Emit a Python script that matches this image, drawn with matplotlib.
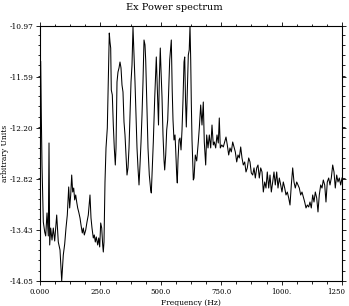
import matplotlib
matplotlib.use("Agg")
import matplotlib.pyplot as plt
import matplotlib.transforms as mtransforms
from matplotlib.ticker import AutoMinorLocator, FixedLocator

freq = [2.9, 5.4, 8.3, 13.7, 19.5, 23.6, 29.0, 34.4, 37.3, 40.1, 44.3, 49.7, 55.0, 60.8,
        69.1, 75.7, 82.8, 89.8, 96.4, 102.2, 107.6, 113.0, 118.8, 122.9, 127.1, 131.2,
        135.3, 139.5, 143.6, 147.8, 151.9, 156.0, 160.2, 165.6, 169.7, 175.1, 179.2,
        183.4, 189.2, 194.5, 199.9, 206.9, 211.1, 215.2, 220.6, 224.7, 228.9, 233.0,
        238.8, 243.0, 247.1, 251.2, 255.4, 259.5, 262.0, 264.9,
        269.0, 273.2, 278.6, 282.7, 286.8, 289.7, 292.6, 295.1, 299.3, 303.4, 307.5,
        311.7, 314.6, 318.7, 322.8, 327.0, 331.1, 335.3, 339.4, 343.5, 347.7, 351.8,
        356.0, 360.1, 364.2, 368.4, 372.5, 376.7, 380.8, 384.9, 389.1, 393.2, 397.4,
        401.5, 405.6, 409.8, 413.9, 418.1, 422.2, 426.3, 430.5, 434.6, 437.5, 441.6,
        447.0, 452.4, 458.2, 460.7, 463.6, 469.0, 474.8, 481.4, 486.3, 490.5, 493.8,
        497.9, 500.8, 505.0, 509.1, 513.3, 516.1, 520.3, 524.4, 528.6, 532.7, 536.8,
        543.5, 547.2, 550.5, 554.6, 558.8, 561.7, 565.8, 568.3, 571.2, 575.4, 579.5,
        583.7, 587.8, 591.9, 596.1, 599.0, 602.3, 605.6, 609.7, 613.9, 617.6, 620.9,
        623.8, 626.3, 629.2, 634.6, 637.5,
        642.8, 648.6, 655.2, 659.4, 665.1, 670.5, 675.9, 680.0, 685.8, 689.9, 695.4,
        700.7, 706.5, 711.9, 717.3, 721.4, 727.2, 732.6, 738.0, 742.1, 746.3, 752.1,
        758.7, 764.5, 769.9, 775.2, 781.0, 786.4, 791.8, 797.6, 803.0, 808.4, 814.2,
        819.5, 824.9, 830.7, 836.1, 841.5, 847.3, 852.6, 858.0, 863.8, 869.2, 874.6,
        880.4, 885.8, 891.2, 897.0, 902.3, 907.7, 913.5, 918.9, 924.3, 930.1, 935.4,
        940.8, 946.6, 952.0, 957.4, 963.2, 968.5, 973.9, 979.7, 985.1, 990.5, 996.3,
        1001.6, 1007.0, 1012.8, 1018.2, 1023.6, 1029.4, 1034.8, 1040.2, 1045.9, 1051.3,
        1056.7, 1062.5, 1067.9, 1073.3, 1079.0, 1084.4, 1089.8, 1095.6, 1101.0, 1106.4,
        1112.2, 1117.5, 1122.9, 1128.7, 1134.1, 1139.5, 1145.3, 1150.6, 1156.0, 1161.8,
        1167.2, 1172.6, 1178.4, 1183.7, 1189.1, 1194.9, 1200.3, 1205.7, 1211.5, 1216.9,
        1222.2, 1228.0, 1233.4, 1238.8, 1244.6, 1250.0]

power = [-11.400, -12.045, -12.649, -13.337, -13.458, -13.506, -13.228, -13.506, -12.383,
         -13.615, -13.410, -13.555, -13.410, -13.567, -13.253, -13.579, -13.675, -14.050,
         -13.736, -13.603, -13.410, -13.253, -12.914, -13.168, -13.011, -12.770, -12.975,
         -12.927, -13.071, -13.011, -13.096, -13.168, -13.216, -13.289, -13.373, -13.470,
         -13.410, -13.494, -13.434, -13.337, -13.253, -13.011, -13.289, -13.410, -13.530,
         -13.494, -13.579, -13.518, -13.615, -13.530, -13.639, -13.349, -13.410, -13.615,
         -13.700, -13.579,
         -12.854, -12.443, -12.202, -11.646, -11.055, -11.163, -11.236, -11.743, -11.803,
         -12.166, -12.443, -12.649, -12.443, -11.646, -11.526, -11.477, -11.405, -11.477,
         -11.683, -11.767, -12.129, -12.286, -12.528, -12.770, -12.684, -12.443, -12.045,
         -11.646, -11.441, -10.982, -11.320, -11.646, -12.045, -12.443, -12.684, -12.890,
         -12.649, -12.371, -12.045, -11.646, -11.139, -11.199, -11.381, -11.840, -12.443,
         -12.770, -12.951, -12.987, -12.770, -12.371, -11.840, -11.344, -11.803, -12.166,
         -11.622, -11.236, -11.501, -11.827, -12.286, -12.588, -12.709, -12.528, -12.226,
         -12.105, -11.743, -11.381, -11.139, -11.743, -12.105, -12.347, -12.286, -12.467,
         -12.770, -12.866, -12.588, -12.347, -12.323, -12.467, -12.226, -11.864, -11.405,
         -11.344, -11.864, -12.190, -11.743, -11.320, -11.260, -10.970, -11.381, -11.900,
         -12.347, -12.830, -12.806,
         -12.528, -12.600, -12.371, -12.202, -11.924, -12.166, -11.888, -12.371, -12.649,
         -12.286, -12.443, -12.286, -12.443, -12.166, -12.407, -12.371, -12.443, -12.286,
         -12.383, -12.081, -12.443, -12.407, -12.431, -12.371, -12.311, -12.407, -12.528,
         -12.443, -12.491, -12.371, -12.431, -12.491, -12.612, -12.528, -12.564, -12.431,
         -12.564, -12.649, -12.612, -12.733, -12.684, -12.564, -12.612, -12.745, -12.770,
         -12.684, -12.806, -12.684, -12.649, -12.806, -12.684, -12.733, -12.975, -12.854,
         -12.927, -12.733, -12.927, -12.770, -12.975, -12.854, -12.733, -12.890, -12.733,
         -12.927, -12.806, -12.890, -12.975, -12.854, -12.927, -13.011, -12.975, -13.047,
         -13.132, -12.890, -12.684, -12.854, -12.927, -12.854, -12.890, -12.927, -13.011,
         -12.975, -13.035, -13.096, -13.168, -13.132, -13.156, -13.096, -13.168, -13.011,
         -13.096, -12.975, -13.047, -13.216, -13.011, -12.890, -12.927, -12.830, -12.890,
         -13.096, -12.854, -12.806, -12.890, -12.806, -12.649, -12.733, -12.927, -12.770,
         -12.854, -12.806, -12.890, -12.806]

x_ticks = [0, 250, 500, 750, 1000, 1250]
x_labels = ["0.000", "250.0", "500.0", "750.0", "1000.", "1250"]
y_ticks = [-14.05, -13.43, -12.82, -12.20, -11.59, -10.97]
y_labels = ["-14.05", "-13.43", "-12.82", "-12.20", "-11.59", "-10.97"]

fig = plt.figure(figsize=(3.49, 3.06), dpi=100)
ax = fig.add_axes([40/349, 25/306, 302/349, 255/306])
ax.plot(freq, power, color="black", linewidth=0.75)
ax.set_xlim(0, 1250)
ax.set_ylim(-14.05, -10.97)

fam = ["DejaVu Serif"]
ax.xaxis.set_major_locator(FixedLocator(x_ticks))
ax.set_xticklabels(x_labels, fontsize=5, family=fam)
ax.yaxis.set_major_locator(FixedLocator(y_ticks))
ax.set_yticklabels(y_labels, fontsize=5.3, family=fam)
ax.xaxis.set_minor_locator(AutoMinorLocator(4))
ax.yaxis.set_minor_locator(AutoMinorLocator(5))
ax.tick_params(which="both", direction="out", top=True, right=True, width=0.6, color="black")
ax.tick_params(which="major", length=3, pad=2)
ax.tick_params(which="minor", length=1.8)
for s in ax.spines.values():
    s.set_linewidth(0.8)

# keep the last x label inside the canvas
last = ax.get_xticklabels()[-1]
last.set_transform(last.get_transform() +
                   mtransforms.ScaledTranslation(-6/100, 0, fig.dpi_scale_trans))

fig.text(0.5, 1 - 8/306, "Ex Power spectrum", fontsize=7, family=fam,
         ha="center", va="center")
ax.set_xlabel("Frequency (Hz)", fontsize=5.5, family=fam, labelpad=2)
ax.set_ylabel("arbitrary Units", fontsize=5.5, family=fam)
ax.yaxis.set_label_coords(-(40 - 9) / 302, 0.5)

fig.savefig("out.png", dpi=100)
